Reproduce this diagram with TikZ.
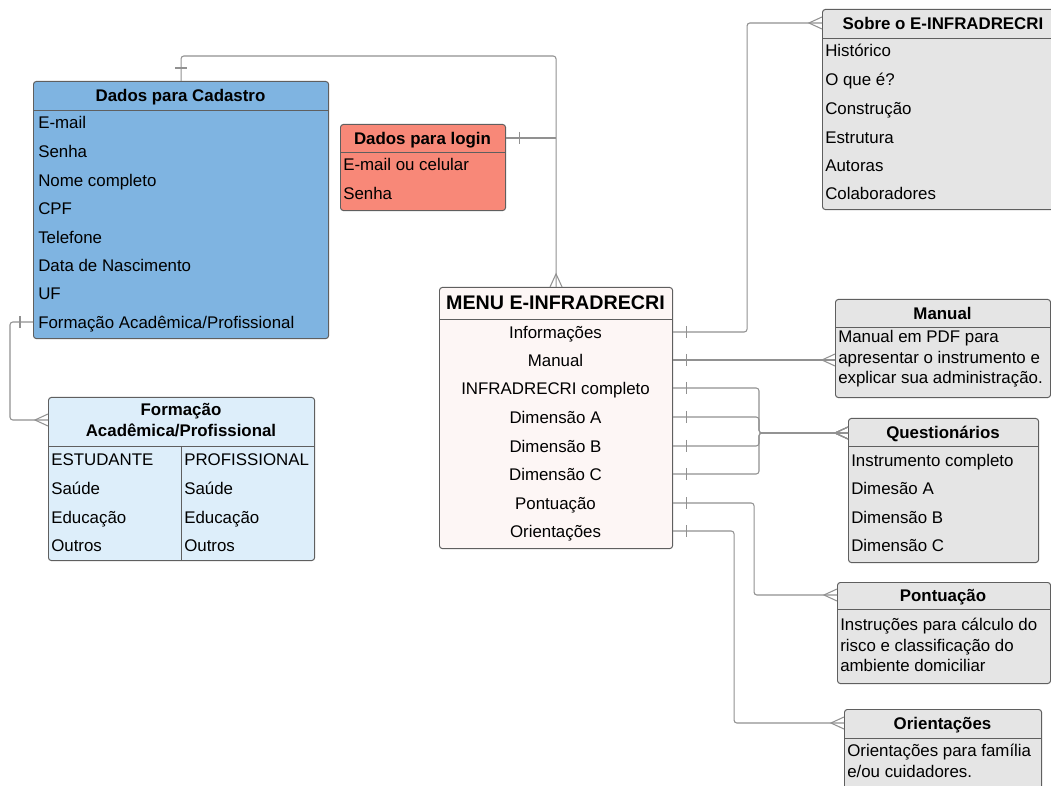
\documentclass[12pt,tikz,border=0pt]{standalone}
\usepackage{fontspec}
\setmainfont{Liberation Sans}
\usepackage{tikz}
\usetikzlibrary{decorations.markings}
\definecolor{cadblue}{RGB}{127,180,225}
\definecolor{loginred}{RGB}{248,136,120}
\definecolor{formblue}{RGB}{221,238,250}
\definecolor{menupink}{RGB}{253,246,245}
\definecolor{infogray}{RGB}{229,229,229}
\definecolor{edgegray}{RGB}{95,95,95}
\definecolor{linkgray}{RGB}{145,145,145}
\tikzset{
  box/.style={draw=edgegray, line width=0.7pt, rounded corners=2pt, inner sep=0pt, anchor=north west},
  divider/.style={draw=edgegray, line width=0.7pt},
  title/.style={font=\bfseries, inner sep=0pt, text height=8.6pt, text depth=0pt},
  row/.style={anchor=west, inner sep=0pt, text height=8.6pt, text depth=0pt},
  mitem/.style={inner sep=0pt, text height=8.6pt, text depth=0pt},
  body/.style={anchor=west, inner sep=0pt, align=left},
  link/.style={draw=linkgray, line width=0.75pt, rounded corners=2pt},
  one/.style={postaction={decorate, decoration={markings,
      mark=at position 0.325cm with {\draw[linkgray, line width=0.75pt] (0,-6) -- (0,6);}}}},
  many/.style={postaction={decorate, decoration={markings,
      mark=at position 0.9999 with {\draw[linkgray, line width=0.75pt, sharp corners] (0,-6) -- (-13,0) -- (0,6);}}}},
}
\begin{document}
\begin{tikzpicture}[x=0.025cm, y=-0.025cm]
	\useasboundingbox (0,0) rectangle (1051,786);
	\clip (0,0) rectangle (1051,786);

	% Dados para Cadastro
	\node[box, fill=cadblue, minimum width=7.375cm, minimum height=6.425cm] (cad) at (33,81) {};
	\draw[divider] (33,110) -- (328,110);
	\node[title] (cadT) at (180.5,95) {Dados para Cadastro};
	\node[row] (cEmail) at (38,122) {E-mail};
	\node[row] (cSenha) at (38,151) {Senha};
	\node[row] (cNome) at (38,180) {Nome completo};
	\node[row] (cCPF) at (38,208) {CPF};
	\node[row] (cTel) at (38,237) {Telefone};
	\node[row] (cData) at (38,265) {Data de Nascimento};
	\node[row] (cUF) at (38,293) {UF};
	\node[row] (cForm) at (38,322) {Formação Acadêmica/Profissional};

	% Dados para login
	\node[box, fill=loginred, minimum width=4.125cm, minimum height=2.15cm] (login) at (340,124) {};
	\draw[divider] (340,152) -- (505,152);
	\node[title] (loginT) at (422.5,138) {Dados para login};
	\node[row] (lEmail) at (343,164) {E-mail ou celular};
	\node[row] (lSenha) at (343,193) {Senha};

	% Formacao
	\node[box, fill=formblue, minimum width=6.65cm, minimum height=4.075cm] (form) at (48,397) {};
	\draw[divider] (48,446) -- (314,446);
	\draw[divider] (181,446) -- (181,560);
	\node[font=\bfseries, align=center, inner sep=0pt] (formT) at (181,420) {Formação\\Acadêmica/Profissional};
	\node[row] (fEst) at (51,459) {ESTUDANTE};
	\node[row] (fEstS) at (51,488) {Saúde};
	\node[row] (fEstE) at (51,517) {Educação};
	\node[row] (fEstO) at (51,545) {Outros};
	\node[row] (fPro) at (184,459) {PROFISSIONAL};
	\node[row] (fProS) at (184,488) {Saúde};
	\node[row] (fProE) at (184,517) {Educação};
	\node[row] (fProO) at (184,545) {Outros};

	% MENU
	\node[box, fill=menupink, minimum width=5.825cm, minimum height=6.525cm] (menu) at (439,287) {};
	\draw[divider] (439,319) -- (672,319);
	\node[title, font=\bfseries\fontsize{14}{16}\selectfont] (menuT) at (555.5,303) {MENU E-INFRADRECRI};
	\node[mitem] (mInfo) at (555.5,332) {Informações};
	\node[mitem] (mMan) at (555.5,360) {Manual};
	\node[mitem] (mFull) at (555.5,388) {INFRADRECRI completo};
	\node[mitem] (mDimA) at (555.5,417) {Dimensão A};
	\node[mitem] (mDimB) at (555.5,446) {Dimensão B};
	\node[mitem] (mDimC) at (555.5,474) {Dimensão C};
	\node[mitem] (mPont) at (555.5,503) {Pontuação};
	\node[mitem] (mOri) at (555.5,531) {Orientações};

	% Sobre
	\node[box, fill=infogray, minimum width=6.05cm, minimum height=5cm] (sobre) at (822,9) {};
	\draw[divider] (822,38) -- (1064,38);
	\node[title] (sobreT) at (943,23) {Sobre o E-INFRADRECRI};
	\node[row] (sHist) at (825,50) {Histórico};
	\node[row] (sQue) at (825,79) {O que é?};
	\node[row] (sCons) at (825,108) {Construção};
	\node[row] (sEst) at (825,137) {Estrutura};
	\node[row] (sAut) at (825,165) {Autoras};
	\node[row] (sCol) at (825,193) {Colaboradores};

	% Manual
	\node[box, fill=infogray, minimum width=5.375cm, minimum height=2.45cm] (manual) at (835,299) {};
	\draw[divider] (835,327) -- (1050,327);
	\node[title] (manT) at (942.5,313) {Manual};
	\node[body] (manB) at (838,359) {Manual em PDF para\\apresentar o instrumento e\\explicar sua administração.};

	% Questionarios
	\node[box, fill=infogray, minimum width=4.75cm, minimum height=3.6cm] (ques) at (848,418) {};
	\draw[divider] (848,446) -- (1038,446);
	\node[title] (quesT) at (943,432) {Questionários};
	\node[row] (qFull) at (851,460) {Instrumento completo};
	\node[row] (qDimA) at (851,488) {Dimesão A};
	\node[row] (qDimB) at (851,517) {Dimensão B};
	\node[row] (qDimC) at (851,545) {Dimensão C};

	% Pontuacao
	\node[box, fill=infogray, minimum width=5.325cm, minimum height=2.525cm] (pont) at (837,582) {};
	\draw[divider] (837,609) -- (1050,609);
	\node[title] (pontT) at (943,595) {Pontuação};
	\node[body] (pontB) at (840,645) {Instruções para cálculo do\\risco e classificação do\\ambiente domiciliar};

	% Orientacoes
	\node[box, fill=infogray, minimum width=4.925cm, minimum height=2.5cm] (ori) at (844,709) {};
	\draw[divider] (844,738) -- (1041,738);
	\node[title] (oriT) at (942.5,723) {Orientações};
	\node[body] (oriB) at (847,761) {Orientações para família\\e/ou cuidadores.};

	% links
	\draw[link, one, many] (cad.north) -- ++(0,-25) -| (menu.north);
	\draw[link, one] (login.east |- loginT) -- (menu.north |- loginT);
	\draw[link, one, many] (cad.west |- cForm) -- ++(-23,0) |- (form.west |- formT);
	\draw[link, one, many] (menu.east |- mInfo) -- ++(74,0) |- (sobre.west |- sobreT);
	\draw[link, one, many] (menu.east |- mMan) -- (manual.west |- mMan);
	\coordinate (qJoin) at (759,433);
	\draw[link, one, many] (menu.east |- mFull) -| (qJoin) -- (ques.west |- qJoin);
	\draw[link, one, many] (menu.east |- mDimA) -| (qJoin) -- (ques.west |- qJoin);
	\draw[link, one, many] (menu.east |- mDimB) -| (qJoin) -- (ques.west |- qJoin);
	\draw[link, one, many] (menu.east |- mDimC) -| (qJoin) -- (ques.west |- qJoin);
	\draw[link, one, many] (menu.east |- mPont) -- ++(81,0) |- (pont.west |- pontT);
	\draw[link, one, many] (menu.east |- mOri) -- ++(61,0) |- (ori.west |- oriT);
\end{tikzpicture}
\end{document}
